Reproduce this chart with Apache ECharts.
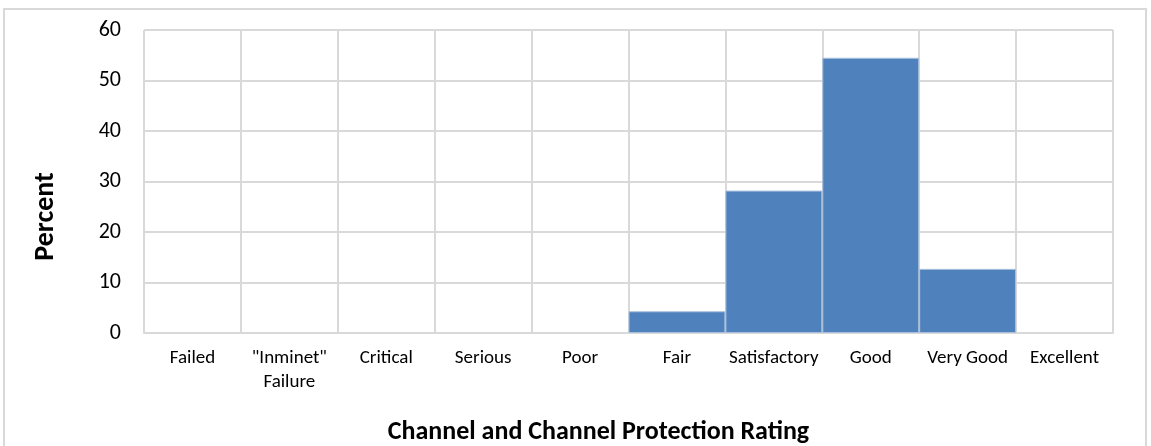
<!DOCTYPE html>
<html>
<head>
<meta charset="utf-8">
<script src="https://cdn.jsdelivr.net/npm/echarts@6/dist/echarts.min.js"></script>
<style>
  html, body { margin: 0; padding: 0; background: #fff; }
  #frame {
    position: absolute; left: 3px; top: 8px; width: 1144px; height: 450px;
    border: 2px solid #d9d9d9; box-sizing: border-box;
  }
  #chart { position: absolute; left: 0; top: 0; width: 1151px; height: 446px; }
</style>
</head>
<body>
<div id="frame"></div>
<div id="chart"></div>
<script>
const categories = ['Failed', '"Inminet"\nFailure', 'Critical', 'Serious', 'Poor', 'Fair', 'Satisfactory', 'Good', 'Very Good', 'Excellent']
const percent = [0, 0, 0, 0, 0, 4.3, 28.2, 54.5, 12.7, 0]
const yTicks = { min: 0, max: 60, interval: 10 }

const font = 'Calibri, Carlito, Lato, "Open Sans", sans-serif'
const chart = echarts.init(document.getElementById('chart'))
chart.setOption({
  animation: false,
  textStyle: { fontFamily: font },
  grid: { left: 144, right: 38, top: 30, bottom: 113, outerBoundsMode: 'none' },
  xAxis: {
    type: 'category',
    data: categories,
    boundaryGap: true,
    name: 'Channel and Channel Protection Rating',
    nameLocation: 'middle',
    nameGap: 86,
    // padding on the right pushes the title left, as in the original
    nameTextStyle: { fontSize: 26, fontWeight: 'bold', color: '#000', fontFamily: font, padding: [0, 60, 0, 0] },
    axisLine: { lineStyle: { color: '#d9d9d9', width: 2 } },
    axisTick: { show: false },
    axisLabel: { color: '#000', fontSize: 19, margin: 13, lineHeight: 24, interval: 0, fontFamily: font },
    splitLine: { show: true, lineStyle: { color: '#d9d9d9', width: 2 } }
  },
  yAxis: {
    type: 'value',
    min: yTicks.min,
    max: yTicks.max,
    interval: yTicks.interval,
    name: 'Percent',
    nameLocation: 'middle',
    nameGap: 84,
    nameRotate: 90,
    nameTextStyle: { fontSize: 28, fontWeight: 'bold', color: '#000', fontFamily: font, padding: [0, 70, 0, 0] },
    axisLine: { show: false },
    axisTick: { show: false },
    axisLabel: { color: '#000', fontSize: 22, margin: 23, fontFamily: font },
    splitLine: { lineStyle: { color: '#d9d9d9', width: 2 } }
  },
  series: [{
    type: 'bar',
    data: percent.map(v => ({ value: v, itemStyle: { borderWidth: v ? 1 : 0 } })),
    barWidth: '100%',
    barCategoryGap: 0,
    itemStyle: { color: '#4f81bd', borderColor: '#a9c0dc' }
  }]
})
</script>
</body>
</html>
